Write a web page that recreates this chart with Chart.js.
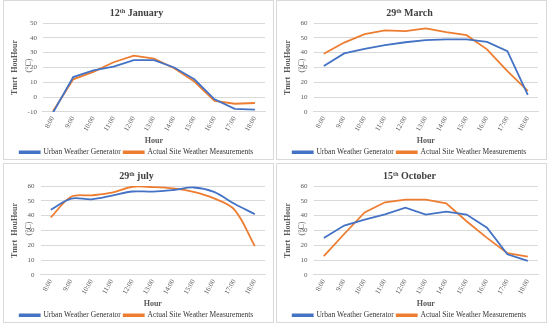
<!DOCTYPE html>
<html>
<head>
<meta charset="utf-8">
<script src="https://cdn.jsdelivr.net/npm/chart.js@4"></script>
<style>
  body { margin: 0; background: #fff; width: 550px; height: 329px; position: relative; overflow: hidden; }
  .panel { position: absolute; width: 271px; height: 160px; border: 1px solid #d9d9d9; box-sizing: border-box; }
</style>
</head>
<body>
<div class="panel" style="left:3px;top:0px"><canvas id="c1"></canvas></div>
<div class="panel" style="left:276px;top:0px"><canvas id="c2"></canvas></div>
<div class="panel" style="left:3px;top:163px"><canvas id="c3"></canvas></div>
<div class="panel" style="left:276px;top:163px"><canvas id="c4"></canvas></div>
<script>
const hours = ['8:00', '9:00', '10:00', '11:00', '12:00', '13:00', '14:00', '15:00', '16:00', '17:00', '18:00'];

const janUwg = [-10.5, 13.5, 18, 20.5, 25, 25, 20, 12, -1.5, -8, -8.5];
const janActual = [-9.5, 12, 17, 23.5, 28, 26, 19.5, 10.5, -2.5, -4.5, -4];

const marUwg = [31, 39.5, 42.5, 45, 47, 48.5, 49, 49, 47.3, 41, 11.5];
const marActual = [39.3, 46.8, 52.5, 55, 54.5, 56.3, 53.8, 51.8, 42.2, 27.5, 14.2];

const julUwg = [44, 51.5, 51, 53.5, 56.3, 56.2, 57.3, 59, 56, 48, 41];
const julActual = [38.8, 52.7, 53.7, 55.5, 59.5, 59.3, 58.4, 56, 51.6, 44, 19.4];

const octUwg = [24.9, 33.3, 37.3, 40.9, 45.4, 40.7, 42.7, 40.7, 31.9, 13.9, 9.4];
const octActual = [12.6, 27.6, 42.2, 49, 50.8, 50.8, 48.3, 36.2, 25, 14.6, 12.4];

const titles = ['12ᵗʰ January', '29ᵗʰ March', '29ᵗʰ july', '15ᵗʰ October'];

const blue = '#4472C4';
const orange = '#ED7D31';
const grey = '#595959';
const serif = "'Liberation Serif', 'DejaVu Serif', serif";

// the "(°C)" that sits on top of the tick labels in the original
const unitLabel = {
  id: 'unitLabel',
  afterDraw(chart) {
    const y = chart.scales.y;
    const ctx = chart.ctx;
    ctx.save();
    ctx.translate(y.left + 21, (chart.chartArea.top + chart.chartArea.bottom) / 2 - 2);
    ctx.rotate(-Math.PI / 2);
    ctx.fillStyle = grey;
    ctx.font = '8px ' + serif;
    ctx.textAlign = 'center';
    ctx.textBaseline = 'middle';
    ctx.fillText('(°C)', 0, 0);
    ctx.restore();
  }
};

function makeChart(id, title, uwg, actual, yMin, smooth) {
  new Chart(document.getElementById(id), {
    type: 'line',
    data: {
      labels: hours,
      datasets: [
        { label: 'Urban Weather Generator', data: uwg, borderColor: blue, backgroundColor: blue,
          borderWidth: 1.8, pointRadius: 0, tension: smooth ? 0.35 : 0 },
        { label: 'Actual Site Weather Measurements', data: actual, borderColor: orange, backgroundColor: orange,
          borderWidth: 1.8, pointRadius: 0, tension: smooth ? 0.35 : 0 }
      ]
    },
    options: {
      responsive: true,
      maintainAspectRatio: false,
      animation: false,
      layout: { padding: { left: 4, right: 8, top: 2, bottom: -7 } },
      plugins: {
        title: { display: true, text: title, color: '#404040', font: { family: serif, size: 10, weight: 'bold' },
          padding: { top: 4, bottom: 4 } },
        legend: { position: 'bottom', labels: { boxWidth: 20, boxHeight: 1.5, color: '#333333', padding: 3,
          font: { family: serif, size: 7.5 } } },
        tooltip: { enabled: false }
      },
      scales: {
        x: {
          offset: true,
          grid: { display: false, drawTicks: false },
          border: { color: '#d9d9d9' },
          ticks: { color: grey, maxRotation: 60, minRotation: 60, padding: 3, font: { family: serif, size: 7 } },
          title: { display: true, text: 'Hour', color: grey, padding: { top: 0, bottom: 0 }, font: { family: serif, size: 8, weight: 'bold' } }
        },
        y: {
          min: yMin, max: yMin + 60,
          ticks: { stepSize: 10, autoSkip: false, color: grey, padding: 6, font: { family: serif, size: 7 } },
          grid: { color: '#d9d9d9', drawTicks: false },
          border: { display: false },
          title: { display: true, text: 'Tmrt  HouHour', color: grey, padding: 2, font: { family: serif, size: 8, weight: 'bold' } }
        }
      }
    },
    plugins: [unitLabel]
  });
}

makeChart('c1', titles[0], janUwg, janActual, -10, false);
makeChart('c2', titles[1], marUwg, marActual, 0, false);
makeChart('c3', titles[2], julUwg, julActual, 0, true);
makeChart('c4', titles[3], octUwg, octActual, 0, false);
</script>
</body>
</html>
